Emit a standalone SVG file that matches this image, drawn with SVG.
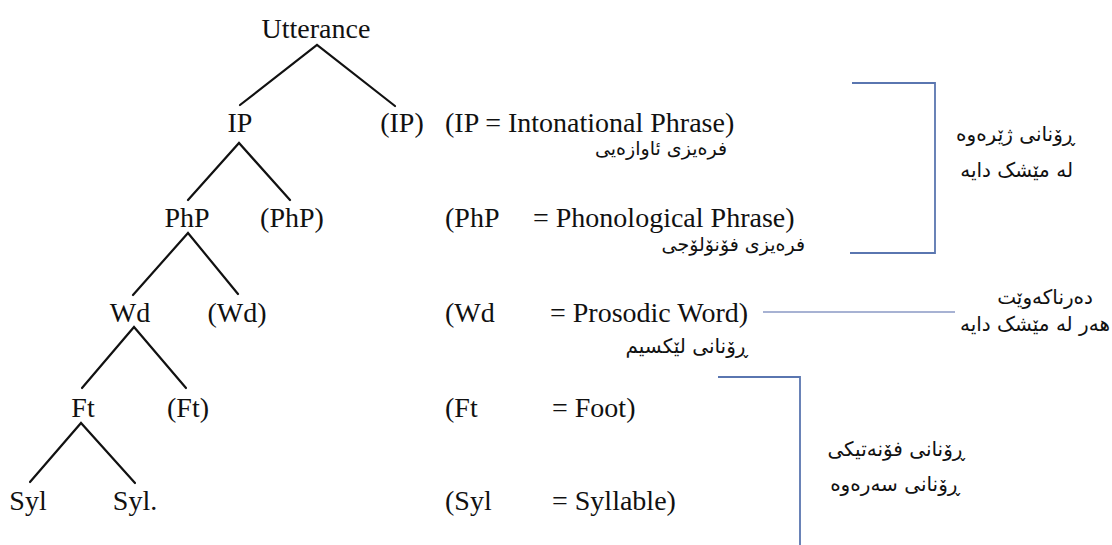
<svg xmlns="http://www.w3.org/2000/svg" width="1112" height="545" viewBox="0 0 1112 545">
<style>
.t{font-family:"Liberation Serif",serif;font-size:28px;fill:#111}
.m{text-anchor:middle}
.k{font-family:"DejaVu Sans","Noto Sans",sans-serif;font-size:20px;fill:#111}
.s{font-size:19px}
.e{text-anchor:end}
.edge{stroke:#111;stroke-width:2.2;fill:none;stroke-linecap:round}
.br{stroke:#5a76b0;stroke-width:1.8;fill:none}
.br2{stroke:#8a98c4;stroke-width:1.4;fill:none}
</style>
<rect width="1112" height="545" fill="#fff"/>
<g id="connectors">
<path class="edge" d="M240 105 L317 45 L395 106"/>
<path class="edge" d="M188 200 L239 143 L290 200"/>
<path class="edge" d="M133 295 L188 233 L238 294"/>
<path class="edge" d="M82 388 L134 327 L186 388"/>
<path class="edge" d="M30 482 L81 423 L135 483"/>
<path class="br" d="M852 83 H935 V253 H850"/>
<path class="br2" d="M763 312 H955"/>
<path class="br" d="M718 377 H800 V545"/>
</g>
<g id="n-utterance"><text class="t m" x="316" y="38">Utterance</text></g>
<g id="n-ip"><text class="t m" x="240" y="132">IP</text></g>
<g id="n-ip2"><text class="t m" x="402" y="132">(IP)</text></g>
<g id="n-php"><text class="t m" x="187" y="227">PhP</text></g>
<g id="n-php2"><text class="t m" x="292" y="227">(PhP)</text></g>
<g id="n-wd"><text class="t m" x="130" y="322">Wd</text></g>
<g id="n-wd2"><text class="t m" x="237" y="322">(Wd)</text></g>
<g id="n-ft"><text class="t m" x="83" y="417">Ft</text></g>
<g id="n-ft2"><text class="t m" x="188" y="417">(Ft)</text></g>
<g id="n-syl"><text class="t m" x="28" y="510">Syl</text></g>
<g id="n-syl2"><text class="t m" x="135" y="510">Syl.</text></g>
<g id="legend-ip">
<text class="t" x="445" y="132">(IP = Intonational Phrase)</text>
<text class="k s e" x="727" y="155">فرەیزی ئاوازەیی</text>
</g>
<g id="legend-php">
<text class="t" x="445" y="227">(PhP</text>
<text class="t" x="533" y="227">= Phonological Phrase)</text>
<text class="k s e" x="805" y="251">فرەیزی فۆنۆلۆجی</text>
</g>
<g id="legend-wd">
<text class="t" x="445" y="322">(Wd</text>
<text class="t" x="550" y="322">= Prosodic Word)</text>
<text class="k e" x="748" y="353">ڕۆنانی لێکسیم</text>
</g>
<g id="legend-ft">
<text class="t" x="445" y="417">(Ft</text>
<text class="t" x="552" y="417">= Foot)</text>
</g>
<g id="legend-syl">
<text class="t" x="445" y="510">(Syl</text>
<text class="t" x="552" y="510">= Syllable)</text>
</g>
<g id="note-deep">
<text class="k e" x="1075" y="141">ڕۆنانی ژێرەوە</text>
<text class="k e" x="1073" y="177">لە مێشک دایە</text>
</g>
<g id="note-hidden">
<text class="k e" x="1093" y="304">دەرناکەوێت</text>
<text class="k e" x="1110" y="331">هەر لە مێشک دایە</text>
</g>
<g id="note-surface">
<text class="k e" x="965" y="456">ڕۆنانی فۆنەتیکی</text>
<text class="k e" x="960" y="491">ڕۆنانی سەرەوە</text>
</g>
</svg>
